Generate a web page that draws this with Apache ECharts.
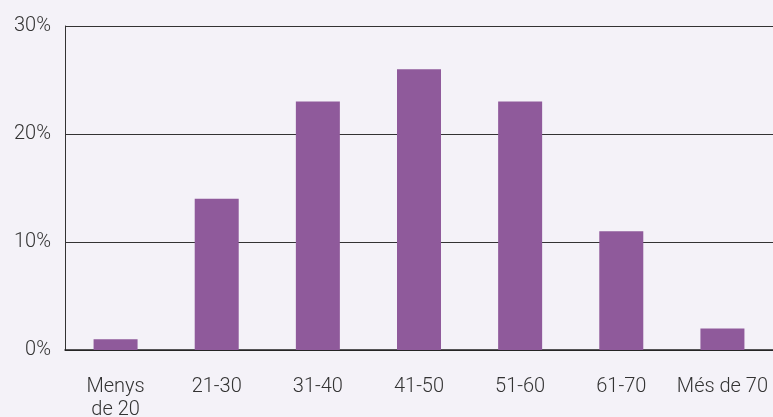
<!DOCTYPE html>
<html>
<head>
<meta charset="utf-8">
<script src="https://cdn.jsdelivr.net/npm/echarts@6/dist/echarts.min.js"></script>
<style>
  html, body { margin: 0; padding: 0; background: #f4f2f8; }
  #chart { width: 773px; height: 417px; }
</style>
</head>
<body>
<div id="chart"></div>
<script>
// Age bands and share of respondents (%)
const categories = ['Menys\nde 20', '21-30', '31-40', '41-50', '51-60', '61-70', 'Més de 70'];
const shares = [1, 14, 23, 26, 23, 11, 2];
const yTicks = [0, 10, 20, 30];

const chart = echarts.init(document.getElementById('chart'), null, { renderer: 'canvas' });
chart.setOption({
  backgroundColor: '#f4f2f8',
  animation: false,
  grid: { left: 65, right: 0, top: 26, bottom: 67, containLabel: false, outerBoundsMode: 'none' },
  xAxis: {
    type: 'category',
    data: categories,
    axisLine: { show: true, lineStyle: { color: '#222', width: 1.5 } },
    axisTick: { show: false },
    axisLabel: {
      color: '#333', fontFamily: 'Roboto', fontSize: 20, fontWeight: 300,
      margin: 25, lineHeight: 23, interval: 0
    }
  },
  yAxis: {
    type: 'value',
    min: yTicks[0], max: yTicks[yTicks.length - 1], interval: 10,
    axisLine: { show: true, lineStyle: { color: '#333', width: 1 } },
    axisTick: { show: false },
    splitLine: { lineStyle: { color: '#333', width: 1 } },
    axisLabel: {
      color: '#333', fontFamily: 'Roboto', fontSize: 20, fontWeight: 300,
      margin: 14, formatter: v => v + '%'
    }
  },
  series: [{
    type: 'bar',
    data: shares,
    barWidth: 44,
    itemStyle: { color: '#8f5a9b' }
  }]
});
</script>
</body>
</html>
